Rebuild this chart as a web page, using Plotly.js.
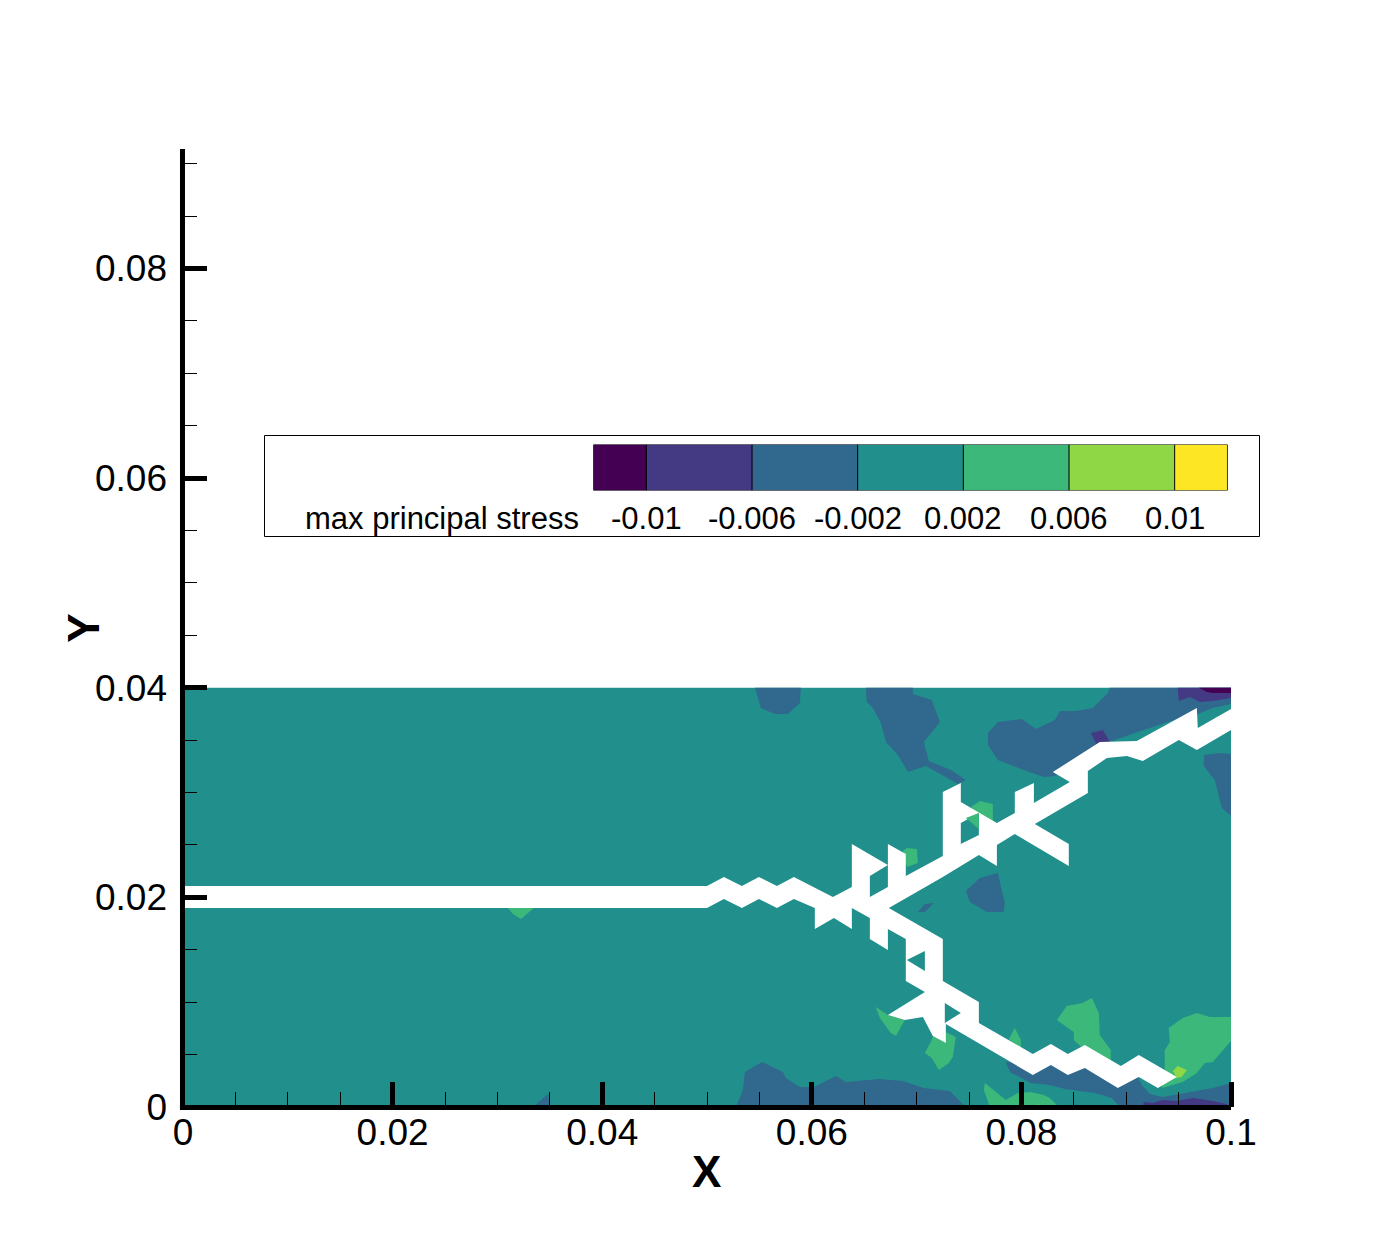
<!DOCTYPE html>
<html>
<head>
<meta charset="utf-8">
<script src="https://cdn.plot.ly/plotly-3.0.1.min.js"></script>
<style>html,body{margin:0;padding:0;background:#fff}</style>
</head>
<body>
<div id="chart" style="width:1400px;height:1245px"></div>
<script>
// contour levels and band colours of max principal stress
var levels = [-0.012, -0.01, -0.006, -0.002, 0.002, 0.006, 0.01, 0.012];
var bandColors = ['#440154', '#443983', '#31688e', '#21908c', '#3bb87a', '#8fd744', '#fde725'];
var levelLabels = ['-0.01', '-0.006', '-0.002', '0.002', '0.006', '0.01'];
var levelTicks = [-0.01, -0.006, -0.002, 0.002, 0.006, 0.01];

var xTicks = [0, 0.02, 0.04, 0.06, 0.08, 0.1];
var xLabels = ['0', '0.02', '0.04', '0.06', '0.08', '0.1'];
var yTicks = [0, 0.02, 0.04, 0.06, 0.08];
var yLabels = ['0', '0.02', '0.04', '0.06', '0.08'];

// domain, contour regions and crack as [x, y] outlines
var domain = [[0, 0], [0.1, 0], [0.1, 0.04], [0, 0.04]];

var blueA = [[.05457, .04], [.05514, .03806], [.05648, .03749], [.05772, .03749], [.05886, .03854], [.05896, .04]];
var blueB = [[.06516, .04], [.06525, .03864], [.06583, .03806], [.06659, .03663], [.06707, .03482], [.06821, .03358], [.06917, .03196], [.07088, .03253], [.0726, .03158], [.07393, .03081], [.0747, .0312], [.07327, .03215], [.07117, .03301], [.07069, .03482], [.07222, .03673], [.07145, .03883], [.06964, .0394], [.06964, .04]];
var blueC = [[.08844, .04], [.08825, .0395], [.08681, .03806], [.08529, .03778], [.08367, .03778], [.08319, .03692], [.08138, .03606], [.08004, .03702], [.07775, .03673], [.0768, .03568], [.0768, .03453], [.07775, .0331], [.08023, .03215], [.08214, .03148], [.08319, .03158], [.08748, .03453], [.09674, .03768], [.09683, .03749], [.09826, .03806], [.1, .03845], [.1, .04]];
var blueD = [[.0974, .03358], [.09893, .03377], [.1, .03368], [.1, .02776], [.09912, .02852], [.09845, .0312], [.0974, .03253]];
var blueE = [[.07775, .02232], [.07603, .02185], [.0747, .02061], [.07508, .01956], [.0767, .0186], [.07832, .0186], [.07842, .01956], [.07813, .0207]];
var blueF = [[.07012, .0186], [.07079, .01937], [.07165, .01946], [.07079, .0186]];
var blueG = [[.05276, 0], [.05342, .00162], [.05361, .00334], [.05524, .00429], [.05724, .00334], [.05753, .00277], [.05886, .00191], [.0602, .00191], [.0623, .00296], [.06325, .00239], [.0664, .00267], [.06869, .00248], [.07069, .00181], [.07317, .00153], [.0747, 0]];
var blueH = [[.03339, 0], [.03482, .00124], [.03501, 0]];
var blueI = [[.07851, .00429], [.0789, .00334], [.0809, .00229], [.08271, .0021], [.08414, .00172], [.087, .00134], [.08863, .00086], [.08939, 0], [.1, 0], [.1, .00229], [.09826, .00181], [.09607, .00143], [.09349, .00095], [.09225, .00124], [.09149, .0021], [.09082, .00334], [.0892, .00239], [.08605, .00448], [.08109, .00401]];

var purpleA = [[.09492, .04], [.09502, .03873], [.09607, .03911], [.09702, .03864], [.09826, .03873], [.1, .03902], [.1, .04]];
var purpleB = [[.08662, .03568], [.08777, .03597], [.08844, .03482], [.0872, .03453]];
var purpleC = [[.09158, 0], [.09168, .00048], [.09254, .00038], [.09349, .00067], [.09483, .00057], [.09635, .00086], [.09826, .00057], [.0996, .00029], [.09979, 0]];
var darkA = [[.09693, .04], [.09769, .03959], [.09826, .0395], [.1, .0395], [.1, .04]];

var greenA = [[.06869, .02442], [.06907, .02471], [.07002, .02461], [.07012, .02328], [.06907, .0229]];
var greenB = [[.07518, .02862], [.07603, .02919], [.07727, .02891], [.07727, .0269], [.07651, .0269]];
var greenC = [[.03101, .01898], [.03148, .01841], [.03225, .01794], [.03349, .01898]];
var greenD = [[.06611, .00954], [.06726, .00878], [.06888, .0083], [.06802, .00677], [.06754, .00706], [.06649, .00849]];
var greenE = [[.07155, .00677], [.07279, .00611], [.07279, .00716], [.07374, .00668], [.07346, .00477], [.07308, .0042], [.07212, .00353], [.07145, .00467], [.07079, .00515], [.07145, .00639]];
var greenF = [[.0788, .00649], [.07937, .00754], [.07995, .00639], [.07995, .00544], [.07937, .00591]];
var greenG = [[.08338, .0083], [.08433, .00964], [.08586, .00992], [.08672, .0104], [.08739, .00897], [.08748, .00687], [.08853, .00544], [.08853, .0041], [.08653, .00496], [.085, .00639], [.085, .00716]];
var greenH = [[.09368, .00429], [.09368, .00544], [.09416, .0062], [.09406, .00754], [.0954, .00849], [.09674, .00897], [.09798, .00859], [.1, .00859], [.1, .0063], [.09826, .00429], [.0975, .0042], [.09674, .00324], [.0954, .00239], [.0934, .00181], [.09368, .00353]];
var greenI = [[.07651, .00229], [.07642, .00162], [.07699, 0], [.08367, 0], [.08338, .00019], [.08271, .00086], [.08214, .00114], [.0809, .00143], [.07966, .00134], [.07851, .00067]];
var greenJ = [[.09826, .03692], [.09874, .0373], [.09855, .03692]];
var limeA = [[.09445, .00343], [.09492, .00391], [.09578, .00353], [.0953, .00286], [.09483, .00277]];
var limeB = [[.08147, 0], [.08166, .00029], [.08185, 0]];

var crack = [[0, .02108], [.05, .02108], [.05161, .02194], [.05333, .02108], [.05495, .02194], [.05667, .02108], [.05829, .02194], [.06201, .02003], [.06382, .02099], [.06382, .02509], [.06726, .02309], [.06554, .02204], [.06554, .02003], [.06726, .02099], [.06726, .02509], [.06897, .02414], [.06897, .02204], [.0725, .02395], [.0725, .03005], [.07422, .03091], [.07422, .0291], [.07766, .02709], [.07937, .02805], [.07937, .03005], [.08119, .03091], [.08119, .029], [.08462, .03101], [.083, .03196], [.08748, .03482], [.09101, .03492], [.09674, .03806], [.09683, .03616], [.1, .03797], [.1, .03597], [.09674, .03406], [.09502, .03501], [.09158, .03301], [.09006, .03349], [.08815, .03329], [.08634, .03205], [.08634, .02996], [.08128, .027], [.08452, .02509], [.08452, .02299], [.07937, .02604], [.07766, .025], [.07766, .02299], [.07594, .02404], [.0725, .02194], [.06735, .01898], [.0725, .01603], [.0725, .01202], [.07594, .01002], [.07594, .00801], [.08109, .00506], [.08281, .00601], [.08443, .00506], [.08605, .00591], [.08949, .00391], [.0912, .00496], [.09483, .00286], [.09302, .00181], [.0912, .00286], [.0892, .00181], [.08605, .00372], [.08443, .00305], [.08281, .00401], [.08109, .00305], [.07279, .00792], [.07279, .00611], [.07155, .00677], [.07107, .00763], [.0706, .00859], [.06888, .0083], [.06726, .00878], [.07079, .01097], [.06897, .01202], [.06897, .01603], [.06726, .01698], [.06726, .01498], [.06554, .01603], [.06554, .01803], [.06382, .01898], [.06382, .01698], [.06211, .01803], [.06029, .01698], [.06029, .01898], [.05829, .01984], [.05667, .01898], [.05495, .01984], [.05333, .01898], [.05161, .01984], [.05, .01898], [0, .01898]];

// small islands inside the crack
var holeA = [[.07422, .02709], [.07594, .02805], [.07594, .02595], [.07422, .02509]];
var holeB = [[.06907, .01402], [.07079, .01488], [.07079, .01297]];
var holeC = [[.07269, .00992], [.07422, .00897], [.07269, .00801]];
var greenHole = [[.0747, .02757], [.07594, .02805], [.07594, .02652]];

function poly(points, color) {
    return {
        x: points.map(function (p) { return p[0]; }),
        y: points.map(function (p) { return p[1]; }),
        type: 'scatter',
        mode: 'lines',
        fill: 'toself',
        fillcolor: color,
        line: { width: 0, color: color },
        hoverinfo: 'skip'
    };
}

var teal = bandColors[3], blue = bandColors[2], purple = bandColors[1], dark = bandColors[0];
var green = bandColors[4], lime = bandColors[5];

var data = [
    poly(domain, teal),
    poly(blueA, blue), poly(blueB, blue), poly(blueC, blue), poly(blueD, blue), poly(blueE, blue),
    poly(blueF, blue), poly(blueG, blue), poly(blueH, blue), poly(blueI, blue),
    poly(purpleA, purple), poly(purpleB, purple), poly(purpleC, purple), poly(darkA, dark),
    poly(greenA, green), poly(greenB, green), poly(greenC, green), poly(greenD, green), poly(greenE, green),
    poly(greenF, green), poly(greenG, green), poly(greenH, green), poly(greenI, green), poly(greenJ, green),
    poly(limeA, lime), poly(limeB, lime),
    poly(crack, '#ffffff'),
    poly(holeA, teal), poly(holeB, teal), poly(holeC, teal), poly(greenHole, green),
    // the contour legend bar
    {
        type: 'heatmap',
        x: levels,
        y: [0, 1],
        z: [bandColors.map(function (c, i) { return i; })],
        zmin: 0,
        zmax: 6,
        xaxis: 'x2',
        yaxis: 'y2',
        showscale: false,
        hoverinfo: 'skip',
        colorscale: bandColors.map(function (c, i) { return [i / 6, c]; })
    }
];

var font = 'Liberation Sans, Arial, sans-serif';
var shapes = [
    // legend box
    { type: 'rect', xref: 'paper', yref: 'paper', x0: 0.07762, x1: 1.02524, y0: 0.59613, y1: 0.70167, fillcolor: '#fff', line: { color: '#000', width: 1 }, layer: 'below' },
    // axis lines
    { type: 'line', xref: 'paper', yref: 'paper', x0: -0.00048, x1: -0.00048, y0: -0.003, y1: 1.00104, line: { color: '#000', width: 5 } },
    { type: 'line', xref: 'paper', yref: 'paper', x0: -0.0029, x1: 0.9981, y0: -0.0005, y1: -0.0005, line: { color: '#000', width: 5 } }
];
// legend bar outline and dividers
levels.forEach(function (lv) {
    shapes.push({ type: 'line', xref: 'x2', yref: 'y2', x0: lv, x1: lv, y0: 0, y1: 1, line: { color: '#000', width: 1 } });
});
shapes.push({ type: 'rect', xref: 'x2', yref: 'y2', x0: levels[0], x1: levels[levels.length - 1], y0: 0, y1: 1, line: { color: '#000', width: 1 } });

var annotations = levelTicks.map(function (v, i) {
    return { xref: 'x2', yref: 'paper', x: v, y: 0.6154, text: levelLabels[i], showarrow: false, font: { family: font, size: 31, color: '#000' }, xanchor: 'center', yanchor: 'middle' };
});
annotations.push({ xref: 'paper', yref: 'paper', x: 0.37905, y: 0.6154, text: 'max principal stress', showarrow: false, font: { family: font, size: 31, color: '#000' }, xanchor: 'right', yanchor: 'middle' });
// Y sits closer to its tick labels than an axis title can
annotations.push({ xref: 'paper', yref: 'paper', x: -0.0955, y: 0.5005, text: '<b>Y</b>', textangle: -90, showarrow: false, font: { family: font, size: 44, color: '#000' }, xanchor: 'center', yanchor: 'middle' });
annotations.push({ xref: 'paper', yref: 'paper', x: 0.499, y: -0.0679, text: '<b>X</b>', showarrow: false, font: { family: font, size: 44, color: '#000' }, xanchor: 'center', yanchor: 'middle' });

var layout = {
    width: 1400,
    height: 1245,
    margin: { l: 183, r: 167, t: 150, b: 138 },
    paper_bgcolor: '#fff',
    plot_bgcolor: '#fff',
    showlegend: false,
    hovermode: false,
    xaxis: {
        range: [0, 0.10019],
        domain: [0, 1],
        tickmode: 'array',
        tickvals: xTicks,
        ticktext: xLabels,
        ticks: 'inside',
        ticklen: 25,
        tickwidth: 5,
        tickcolor: '#000',
        tickfont: { family: font, size: 37, color: '#000' },
        minor: { tickmode: 'linear', tick0: 0, dtick: 0.005, ticks: 'inside', ticklen: 15, tickwidth: 1, tickcolor: '#000' },
        showgrid: false,
        zeroline: false,
        showline: false
    },
    yaxis: {
        range: [0, 0.0913],
        domain: [0, 1],
        tickmode: 'array',
        tickvals: yTicks,
        ticktext: yLabels,
        ticks: 'inside',
        ticklen: 24,
        tickwidth: 5,
        tickcolor: '#000',
        tickfont: { family: font, size: 37, color: '#000' },
        ticklabelstandoff: 15,
        minor: { tickmode: 'linear', tick0: 0, dtick: 0.005, ticks: 'inside', ticklen: 14, tickwidth: 1, tickcolor: '#000' },
        showgrid: false,
        zeroline: false,
        showline: false
    },
    xaxis2: { domain: [0.39095, 0.99476], range: [levels[0], levels[levels.length - 1]], anchor: 'y2', visible: false },
    yaxis2: { domain: [0.6442, 0.69227], range: [0, 1], anchor: 'x2', visible: false },
    shapes: shapes,
    annotations: annotations
};

Plotly.newPlot('chart', data, layout, { displayModeBar: false, staticPlot: true });
</script>
</body>
</html>
